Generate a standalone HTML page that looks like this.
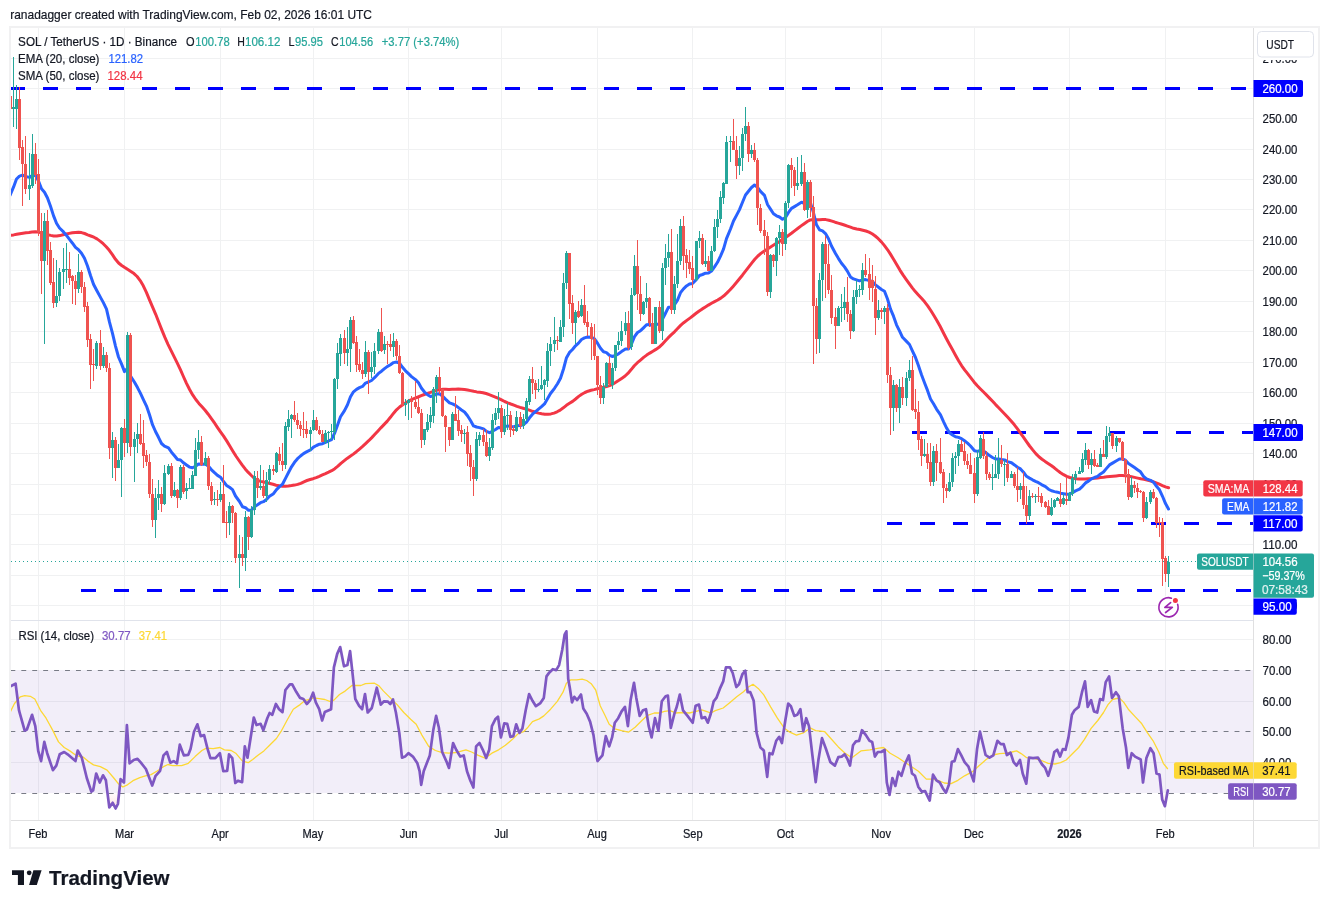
<!DOCTYPE html>
<html><head><meta charset="utf-8"><style>
html,body{margin:0;padding:0;background:#fff;}
body{width:1329px;height:908px;overflow:hidden;position:relative;font-family:"Liberation Sans", sans-serif;}
</style></head><body>
<div style="position:absolute;left:0;top:0;width:1329px;height:908px;will-change:transform"><svg width="1329" height="908" viewBox="0 0 1329 908" style="position:absolute;left:0;top:0;font-family:"Liberation Sans", sans-serif"><text x="10.2" y="19.1" font-size="12.6" fill="#131722" textLength="361.8" lengthAdjust="spacingAndGlyphs" stroke="#131722" stroke-width="0.2">ranadagger created with TradingView.com, Feb 02, 2026 16:01 UTC</text><defs><clipPath id="cm"><rect x="11" y="27" width="1242" height="593"/></clipPath><clipPath id="cr"><rect x="11" y="621" width="1242" height="199"/></clipPath></defs><path d="M38.5,27V620M38.5,621V820M124.5,27V620M124.5,621V820M220.5,27V620M220.5,621V820M313.5,27V620M313.5,621V820M408.5,27V620M408.5,621V820M501.5,27V620M501.5,621V820M597.5,27V620M597.5,621V820M692.5,27V620M692.5,621V820M785.5,27V620M785.5,621V820M881.5,27V620M881.5,621V820M974.5,27V620M974.5,621V820M1069.5,27V620M1069.5,621V820M1165.5,27V620M1165.5,621V820M11,58.5H1253M11,88.5H1253M11,118.5H1253M11,149.5H1253M11,179.5H1253M11,209.5H1253M11,240.5H1253M11,270.5H1253M11,301.5H1253M11,331.5H1253M11,362.5H1253M11,392.5H1253M11,423.5H1253M11,453.5H1253M11,484.5H1253M11,514.5H1253M11,544.5H1253M11,575.5H1253M11,605.5H1253M11,639.5H1253M11,701.5H1253M11,762.5H1253" stroke="#f0f1f2" stroke-width="1" fill="none"/><rect x="11" y="670" width="1242" height="123" fill="#7e57c2" fill-opacity="0.1"/><path d="M10.4,670.5H1253" stroke="#787b86" stroke-width="1" stroke-dasharray="4.9,6.03" fill="none"/><path d="M10.4,731.5H1253" stroke="#787b86" stroke-width="1" stroke-dasharray="4.9,6.03" fill="none"/><path d="M10.4,793.5H1253" stroke="#787b86" stroke-width="1" stroke-dasharray="4.9,6.03" fill="none"/><g clip-path="url(#cm)"><path d="M10,88.5H1253" stroke="#0000ff" stroke-width="3" stroke-dasharray="15,18" fill="none"/><path d="M912,432.5H1253" stroke="#0000ff" stroke-width="3" stroke-dasharray="15,18" fill="none"/><path d="M887,523.5H1253" stroke="#0000ff" stroke-width="3" stroke-dasharray="15,18" fill="none"/><path d="M81,590.5H1253" stroke="#0000ff" stroke-width="3" stroke-dasharray="15,18" fill="none"/><path d="M11,561.5H1253" stroke="#26a69a" stroke-width="1" stroke-dasharray="1,3" fill="none"/><polyline points="10.0,235.4 10.5,235.3 13.6,234.9 16.7,234.3 19.8,233.7 22.9,233.2 25.9,232.8 29.0,232.4 32.1,231.9 35.2,231.7 38.3,232.1 41.4,232.9 44.5,233.8 47.6,234.7 50.7,235.4 53.7,236.0 56.8,236.1 59.9,235.6 63.0,234.8 66.1,234.0 69.2,233.4 72.3,232.8 75.4,232.4 78.4,232.2 81.5,232.6 84.6,233.5 87.7,234.8 90.8,236.0 93.9,237.2 97.0,238.9 100.1,241.1 103.2,243.7 106.2,246.7 109.3,250.3 112.4,254.6 115.5,259.3 118.6,263.0 121.7,265.5 124.8,267.6 127.9,269.6 130.9,271.5 134.0,273.6 137.1,276.5 140.2,280.6 143.3,285.8 146.4,292.4 149.5,299.8 152.6,307.1 155.7,314.3 158.7,322.0 161.8,329.9 164.9,337.4 168.0,344.3 171.1,350.6 174.2,356.8 177.3,363.1 180.4,369.7 183.4,376.5 186.5,383.3 189.6,389.5 192.7,394.9 195.8,399.5 198.9,403.4 202.0,406.8 205.1,410.3 208.2,414.2 211.2,418.3 214.3,422.7 217.4,427.3 220.5,431.8 223.6,436.2 226.7,440.9 229.8,446.0 232.9,451.2 235.9,456.0 239.0,460.5 242.1,464.8 245.2,468.9 248.3,472.4 251.4,475.5 254.5,478.4 257.6,480.4 260.7,481.4 263.7,482.0 266.8,482.7 269.9,483.5 273.0,484.3 276.1,485.2 279.2,485.8 282.3,486.2 285.4,486.2 288.4,486.0 291.5,485.6 294.6,485.1 297.7,484.4 300.8,483.3 303.9,481.8 307.0,480.5 310.1,479.5 313.1,478.7 316.2,477.6 319.3,476.3 322.4,474.9 325.5,473.6 328.6,472.2 331.7,470.7 334.8,468.7 337.9,466.1 340.9,463.3 344.0,460.8 347.1,458.4 350.2,456.3 353.3,454.1 356.4,451.7 359.5,449.1 362.6,446.4 365.6,443.6 368.7,440.7 371.8,437.6 374.9,434.3 378.0,431.0 381.1,427.6 384.2,424.4 387.3,421.1 390.4,417.3 393.4,413.4 396.5,409.8 399.6,407.0 402.7,404.7 405.8,402.7 408.9,400.9 412.0,399.4 415.1,398.2 418.1,397.0 421.2,395.7 424.3,394.5 427.4,393.4 430.5,392.4 433.6,391.3 436.7,390.4 439.8,389.7 442.9,389.3 445.9,389.3 449.0,389.4 452.1,389.3 455.2,389.2 458.3,389.1 461.4,389.2 464.5,389.5 467.6,390.0 470.6,390.6 473.7,391.3 476.8,391.9 479.9,392.3 483.0,392.7 486.1,393.5 489.2,394.6 492.3,395.8 495.4,397.1 498.4,398.4 501.5,399.9 504.6,401.5 507.7,402.8 510.8,404.0 513.9,405.1 517.0,406.3 520.1,407.4 523.1,408.2 526.2,409.1 529.3,410.1 532.4,411.3 535.5,412.3 538.6,413.1 541.7,413.7 544.8,414.2 547.9,414.3 550.9,413.9 554.0,413.1 557.1,411.8 560.2,410.1 563.3,407.8 566.4,405.3 569.5,403.3 572.6,401.4 575.6,399.0 578.7,396.4 581.8,394.2 584.9,392.5 588.0,391.2 591.1,390.3 594.2,389.6 597.3,388.8 600.4,388.0 603.4,387.3 606.5,386.5 609.6,385.6 612.7,384.2 615.8,382.3 618.9,380.3 622.0,378.2 625.1,376.0 628.1,373.2 631.2,369.6 634.3,365.8 637.4,362.7 640.5,360.1 643.6,357.4 646.7,355.1 649.8,353.1 652.9,351.2 655.9,349.4 659.0,347.3 662.1,344.4 665.2,341.0 668.3,337.7 671.4,334.7 674.5,331.8 677.6,328.5 680.6,325.4 683.7,322.7 686.8,320.4 689.9,318.1 693.0,315.7 696.1,313.3 699.2,311.0 702.3,308.9 705.4,307.0 708.4,305.1 711.5,303.3 714.6,301.6 717.7,300.0 720.8,298.1 723.9,295.8 727.0,292.9 730.1,289.8 733.1,286.4 736.2,282.8 739.3,279.0 742.4,275.2 745.5,271.2 748.6,267.1 751.7,263.1 754.8,259.3 757.9,256.0 760.9,253.4 764.0,251.2 767.1,249.2 770.2,247.2 773.3,245.3 776.4,243.4 779.5,241.5 782.6,239.5 785.6,237.4 788.7,235.2 791.8,233.0 794.9,230.6 798.0,228.2 801.1,225.9 804.2,223.7 807.3,221.5 810.4,219.9 813.4,219.5 816.5,219.7 819.6,219.8 822.7,219.6 825.8,219.6 828.9,220.2 832.0,221.1 835.1,222.2 838.1,223.1 841.2,224.0 844.3,225.0 847.4,226.1 850.5,227.2 853.6,228.3 856.7,229.0 859.8,229.5 862.8,230.2 865.9,231.0 869.0,232.1 872.1,233.8 875.2,236.0 878.3,238.7 881.4,241.9 884.5,245.6 887.6,249.8 890.6,254.4 893.7,259.5 896.8,264.8 899.9,270.1 903.0,274.9 906.1,279.3 909.2,283.7 912.3,287.9 915.3,291.6 918.4,295.0 921.5,298.3 924.6,301.8 927.7,305.9 930.8,310.5 933.9,315.5 937.0,320.7 940.1,326.3 943.1,332.2 946.2,338.2 949.3,344.0 952.4,349.6 955.5,355.3 958.6,360.8 961.7,365.8 964.8,370.1 967.8,373.9 970.9,377.9 974.0,381.9 977.1,385.5 980.2,388.7 983.3,391.8 986.4,394.9 989.5,398.1 992.6,401.3 995.6,404.6 998.7,407.8 1001.8,411.0 1004.9,414.2 1008.0,417.6 1011.1,421.0 1014.2,424.6 1017.3,428.7 1020.3,432.9 1023.4,437.2 1026.5,441.7 1029.6,446.0 1032.7,449.9 1035.8,453.6 1038.9,456.8 1042.0,459.2 1045.1,461.4 1048.1,463.4 1051.2,465.5 1054.3,467.8 1057.4,470.4 1060.5,472.8 1063.6,474.7 1066.7,476.3 1069.8,477.5 1072.8,478.3 1075.9,478.7 1079.0,479.0 1082.1,479.1 1085.2,479.0 1088.3,478.7 1091.4,478.5 1094.5,478.2 1097.6,477.9 1100.6,477.5 1103.7,477.2 1106.8,476.8 1109.9,476.5 1113.0,476.2 1116.1,475.9 1119.2,475.6 1122.3,475.6 1125.3,475.7 1128.4,476.1 1131.5,476.7 1134.6,477.4 1137.7,478.1 1140.8,478.8 1143.9,479.4 1147.0,480.0 1150.1,480.8 1153.1,481.7 1156.2,482.8 1159.3,484.2 1162.4,485.6 1165.5,486.9 1168.6,487.8" stroke="#f23645" stroke-width="3" fill="none" stroke-linejoin="round" stroke-linecap="round"/><polyline points="10.0,195.4 13.5,187.2 16.5,179.0 19.5,176.1 22.5,175.1 25.5,176.5 29.5,177.4 32.5,175.3 35.5,175.4 38.5,181.0 41.5,188.8 44.5,192.2 47.5,198.0 50.5,206.3 53.5,215.6 56.5,223.3 59.5,228.0 63.5,231.9 66.5,235.4 69.5,239.4 72.5,243.2 75.5,247.4 78.5,249.7 81.5,253.2 84.5,258.3 87.5,266.0 90.5,275.5 93.5,284.2 96.5,290.0 100.5,297.4 103.5,302.9 106.5,309.1 109.5,322.2 112.5,333.3 115.5,346.1 118.5,357.0 121.5,363.9 124.5,371.6 127.5,368.3 130.5,376.0 134.5,382.3 137.5,387.6 140.5,393.4 143.5,399.8 146.5,406.1 149.5,414.7 152.5,424.7 155.5,431.5 158.5,437.3 161.5,443.5 164.5,446.1 168.5,447.9 171.5,452.2 174.5,455.7 177.5,459.5 180.5,460.0 183.5,462.8 186.5,465.0 189.5,467.1 192.5,467.8 195.5,466.2 198.5,464.0 201.5,464.3 205.5,464.0 208.5,466.3 211.5,469.8 214.5,472.7 217.5,475.4 220.5,477.2 223.5,481.5 226.5,485.4 229.5,487.3 232.5,489.6 235.5,496.0 239.5,501.5 242.5,506.8 245.5,507.7 248.5,510.3 251.5,510.2 254.5,506.8 257.5,504.8 260.5,502.7 263.5,501.7 266.5,499.4 269.5,496.3 273.5,493.7 276.5,489.6 279.5,486.6 282.5,484.2 285.5,478.4 288.5,472.5 291.5,466.8 294.5,462.3 297.5,458.7 300.5,456.0 303.5,453.6 306.5,451.9 310.5,449.9 313.5,447.1 316.5,445.5 319.5,444.2 322.5,443.7 325.5,442.4 328.5,441.0 331.5,439.6 334.5,433.4 337.5,425.3 340.5,416.8 344.5,410.6 347.5,404.8 350.5,396.8 353.5,391.8 356.5,389.4 359.5,387.6 362.5,386.4 365.5,383.1 368.5,382.0 371.5,380.5 374.5,377.7 378.5,373.4 381.5,371.2 384.5,368.6 387.5,366.4 390.5,364.7 393.5,362.6 396.5,362.0 399.5,363.2 402.5,367.3 405.5,370.8 408.5,373.7 411.5,376.6 415.5,379.6 418.5,382.8 421.5,388.2 424.5,392.0 427.5,394.7 430.5,396.5 433.5,395.8 436.5,394.1 439.5,393.8 442.5,396.1 445.5,399.1 449.5,402.9 452.5,403.9 455.5,405.4 458.5,407.6 461.5,410.0 464.5,412.0 467.5,415.8 470.5,420.5 473.5,425.9 476.5,427.0 479.5,427.6 483.5,428.9 486.5,431.4 489.5,432.7 492.5,431.3 495.5,429.5 498.5,427.4 501.5,427.9 504.5,426.9 507.5,425.9 510.5,426.4 513.5,426.8 516.5,425.7 520.5,425.6 523.5,424.6 526.5,422.1 529.5,417.8 532.5,414.2 535.5,411.7 538.5,409.2 541.5,406.7 544.5,403.9 547.5,398.8 550.5,393.5 554.5,388.3 557.5,383.7 560.5,378.2 563.5,369.0 566.5,357.7 569.5,352.4 572.5,349.5 575.5,345.8 578.5,343.1 581.5,339.5 584.5,337.9 587.5,337.0 591.5,337.2 594.5,338.9 597.5,343.2 600.5,348.2 603.5,351.8 606.5,352.6 609.5,355.4 612.5,356.5 615.5,355.3 618.5,353.8 621.5,351.6 625.5,349.0 628.5,349.0 631.5,344.0 634.5,336.6 637.5,332.5 640.5,330.7 643.5,327.8 646.5,324.8 649.5,324.4 652.5,326.0 655.5,324.1 659.5,324.6 662.5,319.1 665.5,313.2 668.5,307.2 671.5,307.2 674.5,304.6 677.5,300.1 680.5,292.7 683.5,288.8 686.5,285.9 689.5,284.0 692.5,283.5 696.5,279.4 699.5,275.5 702.5,274.5 705.5,273.2 708.5,273.0 711.5,271.0 714.5,266.9 717.5,262.3 720.5,256.1 723.5,249.1 726.5,238.6 730.5,229.0 733.5,221.0 736.5,215.4 739.5,209.6 742.5,202.3 745.5,195.0 748.5,191.2 751.5,187.5 754.5,185.0 757.5,187.3 760.5,191.4 764.5,195.4 767.5,204.5 770.5,209.1 773.5,213.8 776.5,215.8 779.5,217.0 782.5,219.3 785.5,217.5 788.5,212.4 791.5,208.4 794.5,206.6 797.5,204.8 801.5,202.2 804.5,203.5 807.5,202.0 810.5,202.9 813.5,212.9 816.5,224.8 819.5,229.8 822.5,230.9 825.5,233.6 828.5,238.7 831.5,246.0 835.5,253.5 838.5,258.6 841.5,263.2 844.5,266.9 847.5,271.4 850.5,277.0 853.5,278.9 856.5,279.9 859.5,280.9 862.5,280.0 865.5,279.6 869.5,280.6 872.5,281.4 875.5,284.9 878.5,287.2 881.5,289.5 884.5,291.2 887.5,299.0 890.5,309.1 893.5,316.2 896.5,324.8 899.5,330.8 902.5,337.3 906.5,341.4 909.5,344.5 912.5,351.1 915.5,357.5 918.5,365.8 921.5,374.8 924.5,382.7 927.5,390.4 930.5,399.0 933.5,403.7 936.5,409.1 940.5,414.9 943.5,421.6 946.5,427.9 949.5,432.8 952.5,435.0 955.5,436.8 958.5,437.4 961.5,438.7 964.5,440.8 967.5,443.1 970.5,446.0 974.5,450.7 977.5,451.4 980.5,450.3 983.5,451.0 986.5,453.3 989.5,455.6 992.5,457.5 995.5,459.0 998.5,459.0 1001.5,459.5 1004.5,459.9 1007.5,461.6 1011.5,462.8 1014.5,464.9 1017.5,467.2 1020.5,468.9 1023.5,472.2 1026.5,476.3 1029.5,478.1 1032.5,479.8 1035.5,481.3 1038.5,482.7 1041.5,484.6 1045.5,486.6 1048.5,489.2 1051.5,490.8 1054.5,491.6 1057.5,492.2 1060.5,493.2 1063.5,493.7 1066.5,494.3 1069.5,494.2 1072.5,492.7 1075.5,490.9 1079.5,489.1 1082.5,486.3 1085.5,482.9 1088.5,481.1 1091.5,478.9 1094.5,477.5 1097.5,476.3 1100.5,473.9 1103.5,472.0 1106.5,468.4 1109.5,464.9 1112.5,463.1 1116.5,460.8 1119.5,459.0 1122.5,459.0 1125.5,460.2 1128.5,463.5 1131.5,465.4 1134.5,467.5 1137.5,469.7 1140.5,471.8 1143.5,476.3 1146.5,478.9 1150.5,480.3 1153.5,482.2 1156.5,486.3 1159.5,489.8 1162.5,496.3 1165.5,503.6 1168.5,509.0" stroke="#2962ff" stroke-width="3" fill="none" stroke-linejoin="round" stroke-linecap="round"/><path d="M13.5,57V127M16.5,85V129M29.5,153V200M32.5,134V188M44.5,213V344M56.5,260V307M59.5,268V301M63.5,248V289M66.5,243V283M78.5,254V293M96.5,341V369M103.5,347V368M112.5,432V478M118.5,444V468M121.5,427V497M127.5,332V453M134.5,432V482M137.5,423V453M155.5,488V538M158.5,480V510M164.5,465V505M168.5,464V475M174.5,482V497M180.5,465V500M186.5,483V499M189.5,478V489M192.5,471V489M195.5,438V476M198.5,430V459M205.5,452V466M214.5,492V505M220.5,482V502M229.5,502V535M239.5,535V588M245.5,511V571M251.5,506V538M254.5,471V515M260.5,465V490M266.5,472V502M269.5,465V484M276.5,452V473M285.5,422V469M288.5,410V431M291.5,414V438M310.5,427V451M313.5,410V431M325.5,430V444M328.5,431V448M331.5,424V440M334.5,378V440M337.5,343V389M340.5,334V366M347.5,327V366M350.5,317V372M365.5,341V377M371.5,352V378M374.5,343V374M378.5,329V354M384.5,336V354M393.5,333V357M405.5,399V416M408.5,399V420M424.5,429V445M427.5,414V432M430.5,407V428M433.5,387V423M436.5,375V403M452.5,412V440M464.5,429V444M476.5,432V481M479.5,432V446M489.5,438V461M492.5,414V450M495.5,408V425M498.5,392V419M504.5,409V435M507.5,403V430M516.5,411V432M523.5,414V429M526.5,398V421M529.5,376V405M538.5,379V392M541.5,366V390M544.5,379V400M547.5,343V387M550.5,337V366M554.5,317V352M560.5,320V342M563.5,273V337M566.5,251V289M575.5,310V344M581.5,299V317M603.5,383V404M606.5,362V387M612.5,363V389M615.5,345V371M618.5,332V350M621.5,321V346M625.5,312V335M631.5,288V350M634.5,255V296M643.5,301V315M646.5,283V308M655.5,307V344M662.5,263V340M665.5,244V285M668.5,234V267M674.5,276V314M677.5,234V288M680.5,219V265M696.5,241V281M699.5,231V248M705.5,240V267M711.5,246V271M714.5,219V252M717.5,210V238M720.5,191V223M723.5,182V204M726.5,136V184M730.5,136V162M739.5,146V175M742.5,128V171M745.5,107V141M751.5,145V158M770.5,254V298M776.5,237V276M779.5,225V255M785.5,201V250M788.5,164V208M797.5,157V190M801.5,155V186M807.5,180V218M819.5,273V353M822.5,242V301M838.5,306V326M841.5,294V322M844.5,287V320M853.5,290V332M856.5,280V304M859.5,285V297M862.5,263V295M878.5,300V320M884.5,306V324M893.5,380V431M899.5,379V423M906.5,372V406M909.5,360V381M924.5,439V457M933.5,446V486M949.5,473V492M952.5,453V487M955.5,452V474M958.5,440V466M977.5,450V496M980.5,435V459M992.5,464V490M995.5,455V478M998.5,438V479M1004.5,460V486M1011.5,471V478M1020.5,483V499M1029.5,490V520M1035.5,494V503M1051.5,498V516M1054.5,499V508M1057.5,497V501M1063.5,494V505M1069.5,492V501M1072.5,474V496M1075.5,471V484M1079.5,467V474M1082.5,453V473M1085.5,443V465M1091.5,453V474M1100.5,448V467M1106.5,426V459M1109.5,427V442M1116.5,436V452M1131.5,477V498M1146.5,497V519M1150.5,490V504M1168.5,556V587" stroke="#26a69a" stroke-width="1" fill="none"/><path d="M10.5,92V142M19.5,87V160M22.5,140V206M25.5,136V194M35.5,143V184M38.5,159V236M41.5,213V294M47.5,210V265M50.5,242V285M53.5,258V308M69.5,252V285M72.5,275V304M75.5,275V305M81.5,270V293M84.5,282V312M87.5,302V347M90.5,334V389M93.5,349V381M100.5,330V370M106.5,352V372M109.5,363V459M115.5,437V481M124.5,419V457M130.5,333V456M140.5,414V445M143.5,420V468M146.5,450V466M149.5,454V498M152.5,479V527M161.5,487V512M171.5,463V498M177.5,489V508M183.5,465V494M201.5,436V466M208.5,456V490M211.5,482V505M217.5,490V506M223.5,465V523M226.5,511V538M232.5,505V523M235.5,512V563M242.5,537V566M248.5,516V550M257.5,471V498M263.5,470V498M273.5,465V475M279.5,447V465M282.5,443V471M294.5,401V422M297.5,413V429M300.5,421V436M303.5,412V438M306.5,421V438M316.5,417V431M319.5,426V435M322.5,430V442M344.5,330V364M353.5,316V344M356.5,336V372M359.5,349V372M362.5,362V379M368.5,350V394M381.5,308V352M387.5,341V364M390.5,334V351M396.5,339V360M399.5,345V374M402.5,372V406M411.5,396V418M415.5,381V409M418.5,398V414M421.5,409V448M439.5,367V394M442.5,389V417M445.5,415V452M449.5,427V446M455.5,396V421M458.5,410V436M461.5,425V442M467.5,426V466M470.5,445V481M473.5,460V496M483.5,429V446M486.5,430V457M501.5,405V438M510.5,411V437M513.5,426V435M520.5,412V429M532.5,367V394M535.5,380V399M557.5,336V350M569.5,253V319M572.5,295V334M578.5,301V318M584.5,285V325M587.5,311V336M591.5,323V360M594.5,324V360M597.5,356V395M600.5,376V404M609.5,356V386M628.5,311V350M637.5,240V310M640.5,276V321M649.5,297V327M652.5,313V344M659.5,301V333M671.5,229V314M683.5,216V270M686.5,249V278M689.5,250V274M692.5,256V288M702.5,234V265M708.5,256V271M733.5,119V150M736.5,136V179M748.5,122V162M754.5,143V162M757.5,158V225M760.5,204V233M764.5,220V255M767.5,232V296M773.5,254V267M782.5,229V256M791.5,158V188M794.5,167V196M804.5,163V211M810.5,180V217M813.5,196V364M816.5,298V354M825.5,236V298M828.5,244V294M831.5,275V324M835.5,308V349M847.5,277V322M850.5,310V339M865.5,254V277M869.5,258V300M872.5,265V302M875.5,276V335M881.5,308V319M887.5,304V383M890.5,367V435M896.5,384V412M902.5,377V405M912.5,356V411M915.5,389V419M918.5,401V450M921.5,436V466M927.5,443V469M930.5,443V486M936.5,444V481M940.5,438V474M943.5,469V503M946.5,484V498M961.5,440V452M964.5,442V465M967.5,454V469M970.5,453V474M974.5,458V503M983.5,432V459M986.5,451V480M989.5,472V480M1001.5,445V467M1007.5,453V482M1014.5,472V488M1017.5,467V502M1023.5,472V509M1026.5,486V524M1032.5,493V498M1038.5,487V502M1041.5,493V507M1045.5,501V508M1048.5,500V515M1060.5,483V507M1066.5,478V505M1088.5,449V469M1094.5,450V467M1097.5,463V467M1103.5,440V457M1112.5,433V449M1119.5,438V443M1122.5,441V461M1125.5,459V483M1128.5,469V500M1134.5,481V493M1137.5,483V498M1140.5,490V493M1143.5,491V522M1153.5,489V499M1156.5,497V528M1159.5,517V537M1162.5,518V586M1165.5,556V582" stroke="#ef5350" stroke-width="1" fill="none"/><path d="M12,107h3v2h-3zM15,99h3v10h-3zM28,185h3v4h-3zM31,154h3v32h-3zM43,221h3v40h-3zM55,296h3v7h-3zM58,272h3v24h-3zM62,269h3v3h-3zM65,269h3v1h-3zM77,272h3v17h-3zM95,343h3v23h-3zM102,355h3v11h-3zM111,440h3v8h-3zM117,460h3v8h-3zM120,428h3v32h-3zM126,335h3v108h-3zM133,439h3v8h-3zM136,434h3v5h-3zM154,498h3v22h-3zM157,494h3v4h-3zM163,473h3v31h-3zM167,466h3v8h-3zM173,490h3v6h-3zM179,467h3v31h-3zM185,488h3v3h-3zM188,488h3v1h-3zM191,475h3v14h-3zM194,450h3v26h-3zM197,442h3v8h-3zM204,458h3v7h-3zM213,499h3v1h-3zM219,494h3v6h-3zM228,506h3v17h-3zM238,554h3v4h-3zM244,517h3v41h-3zM250,510h3v27h-3zM253,476h3v34h-3zM259,486h3v2h-3zM265,480h3v16h-3zM268,469h3v11h-3zM275,453h3v19h-3zM284,426h3v39h-3zM287,419h3v8h-3zM290,415h3v4h-3zM309,430h3v4h-3zM312,420h3v10h-3zM324,433h3v9h-3zM327,432h3v1h-3zM330,431h3v1h-3zM333,379h3v53h-3zM336,353h3v26h-3zM339,338h3v16h-3zM346,349h3v4h-3zM349,320h3v29h-3zM364,352h3v22h-3zM370,367h3v5h-3zM373,351h3v16h-3zM377,332h3v19h-3zM383,344h3v6h-3zM392,341h3v6h-3zM404,403h3v2h-3zM407,400h3v3h-3zM423,429h3v11h-3zM426,422h3v8h-3zM429,415h3v7h-3zM432,389h3v27h-3zM435,377h3v12h-3zM451,414h3v26h-3zM463,433h3v1h-3zM475,439h3v40h-3zM478,435h3v5h-3zM488,447h3v9h-3zM491,420h3v28h-3zM494,413h3v7h-3zM497,408h3v5h-3zM503,416h3v16h-3zM506,415h3v1h-3zM515,417h3v14h-3zM522,419h3v7h-3zM525,401h3v18h-3zM528,379h3v23h-3zM537,389h3v1h-3zM540,385h3v4h-3zM543,380h3v5h-3zM546,351h3v30h-3zM549,344h3v7h-3zM553,340h3v4h-3zM559,327h3v15h-3zM562,283h3v44h-3zM565,253h3v30h-3zM574,312h3v11h-3zM580,305h3v11h-3zM602,387h3v11h-3zM605,363h3v24h-3zM611,368h3v17h-3zM614,345h3v23h-3zM617,341h3v4h-3zM620,331h3v10h-3zM624,323h3v8h-3zM630,295h3v52h-3zM633,266h3v29h-3zM642,302h3v12h-3zM645,298h3v4h-3zM654,307h3v37h-3zM661,268h3v63h-3zM664,258h3v10h-3zM667,252h3v6h-3zM673,284h3v26h-3zM676,261h3v23h-3zM679,226h3v35h-3zM695,241h3v39h-3zM698,238h3v3h-3zM704,261h3v3h-3zM710,251h3v20h-3zM713,227h3v24h-3zM716,219h3v8h-3zM719,197h3v22h-3zM722,183h3v15h-3zM725,142h3v42h-3zM729,141h3v1h-3zM738,158h3v8h-3zM741,134h3v24h-3zM744,126h3v8h-3zM750,150h3v4h-3zM769,255h3v37h-3zM775,238h3v23h-3zM778,232h3v6h-3zM784,203h3v41h-3zM787,165h3v38h-3zM796,183h3v3h-3zM800,172h3v12h-3zM806,182h3v28h-3zM818,280h3v59h-3zM821,244h3v36h-3zM837,308h3v18h-3zM840,307h3v1h-3zM843,302h3v6h-3zM852,297h3v34h-3zM855,290h3v7h-3zM858,289h3v1h-3zM861,270h3v20h-3zM877,310h3v8h-3zM883,308h3v4h-3zM892,385h3v23h-3zM898,387h3v21h-3zM905,378h3v20h-3zM908,370h3v8h-3zM923,454h3v2h-3zM932,451h3v31h-3zM948,482h3v9h-3zM951,458h3v24h-3zM954,456h3v2h-3zM957,444h3v12h-3zM976,457h3v37h-3zM979,438h3v20h-3zM991,477h3v1h-3zM994,474h3v4h-3zM997,460h3v14h-3zM1003,464h3v1h-3zM1010,474h3v4h-3zM1019,486h3v4h-3zM1028,496h3v20h-3zM1034,496h3v1h-3zM1050,507h3v8h-3zM1053,500h3v7h-3zM1056,498h3v3h-3zM1062,498h3v6h-3zM1068,493h3v8h-3zM1071,478h3v16h-3zM1074,474h3v4h-3zM1078,471h3v3h-3zM1081,459h3v13h-3zM1084,450h3v10h-3zM1090,459h3v6h-3zM1099,454h3v13h-3zM1105,436h3v21h-3zM1108,433h3v3h-3zM1115,438h3v8h-3zM1130,485h3v12h-3zM1145,502h3v16h-3zM1149,492h3v10h-3zM1167,562h3v12h-3z" fill="#26a69a"/><path d="M9,96h3v13h-3zM18,99h3v49h-3zM21,147h3v17h-3zM24,164h3v25h-3zM34,154h3v21h-3zM37,174h3v58h-3zM40,231h3v30h-3zM46,221h3v30h-3zM49,250h3v33h-3zM52,282h3v21h-3zM68,269h3v9h-3zM71,276h3v5h-3zM74,281h3v8h-3zM80,272h3v15h-3zM83,287h3v20h-3zM86,306h3v34h-3zM89,339h3v26h-3zM92,364h3v1h-3zM99,343h3v23h-3zM105,355h3v13h-3zM108,368h3v80h-3zM114,440h3v28h-3zM123,428h3v15h-3zM129,335h3v112h-3zM139,434h3v10h-3zM142,443h3v13h-3zM145,455h3v7h-3zM148,462h3v32h-3zM151,494h3v26h-3zM160,494h3v10h-3zM170,466h3v30h-3zM176,490h3v8h-3zM182,467h3v25h-3zM200,442h3v23h-3zM207,458h3v28h-3zM210,486h3v15h-3zM216,499h3v1h-3zM222,494h3v29h-3zM225,522h3v1h-3zM231,506h3v7h-3zM234,513h3v45h-3zM241,554h3v4h-3zM247,517h3v20h-3zM256,478h3v10h-3zM262,486h3v10h-3zM272,469h3v2h-3zM278,454h3v7h-3zM281,461h3v4h-3zM293,415h3v5h-3zM296,420h3v5h-3zM299,425h3v4h-3zM302,429h3v1h-3zM305,429h3v5h-3zM315,420h3v10h-3zM318,430h3v4h-3zM321,434h3v8h-3zM343,338h3v15h-3zM352,320h3v23h-3zM355,342h3v23h-3zM358,364h3v6h-3zM361,370h3v4h-3zM367,352h3v20h-3zM380,332h3v19h-3zM386,344h3v1h-3zM389,344h3v3h-3zM395,341h3v15h-3zM398,356h3v17h-3zM401,373h3v32h-3zM410,400h3v2h-3zM414,402h3v5h-3zM417,407h3v6h-3zM420,413h3v27h-3zM438,377h3v12h-3zM441,389h3v27h-3zM444,416h3v11h-3zM448,427h3v13h-3zM454,414h3v7h-3zM457,420h3v11h-3zM460,430h3v4h-3zM466,432h3v22h-3zM469,453h3v14h-3zM472,467h3v12h-3zM482,435h3v7h-3zM485,442h3v14h-3zM500,408h3v24h-3zM509,415h3v15h-3zM512,429h3v2h-3zM519,417h3v9h-3zM531,379h3v4h-3zM534,383h3v7h-3zM556,340h3v1h-3zM568,253h3v51h-3zM571,303h3v20h-3zM577,311h3v6h-3zM583,305h3v18h-3zM586,322h3v5h-3zM590,327h3v12h-3zM593,339h3v17h-3zM596,356h3v29h-3zM599,385h3v13h-3zM608,363h3v21h-3zM627,323h3v25h-3zM636,266h3v28h-3zM639,294h3v20h-3zM648,298h3v25h-3zM651,323h3v21h-3zM658,307h3v24h-3zM670,252h3v58h-3zM682,226h3v30h-3zM685,255h3v8h-3zM688,262h3v7h-3zM691,268h3v12h-3zM701,238h3v26h-3zM707,261h3v10h-3zM732,141h3v9h-3zM735,150h3v16h-3zM747,126h3v28h-3zM753,150h3v10h-3zM756,160h3v48h-3zM759,208h3v23h-3zM763,230h3v6h-3zM766,236h3v56h-3zM772,255h3v6h-3zM781,232h3v12h-3zM790,165h3v5h-3zM793,170h3v16h-3zM803,172h3v38h-3zM809,182h3v26h-3zM812,207h3v99h-3zM815,306h3v33h-3zM824,244h3v20h-3zM827,264h3v26h-3zM830,290h3v28h-3zM834,317h3v9h-3zM846,302h3v12h-3zM849,314h3v17h-3zM864,270h3v5h-3zM868,274h3v14h-3zM871,280h3v8h-3zM874,289h3v29h-3zM880,310h3v2h-3zM886,308h3v67h-3zM889,375h3v33h-3zM895,385h3v23h-3zM901,387h3v11h-3zM911,370h3v40h-3zM914,409h3v3h-3zM917,412h3v28h-3zM920,439h3v17h-3zM926,454h3v9h-3zM929,462h3v20h-3zM935,451h3v12h-3zM939,462h3v11h-3zM942,472h3v16h-3zM945,488h3v3h-3zM960,444h3v8h-3zM963,451h3v10h-3zM966,461h3v4h-3zM969,465h3v9h-3zM973,473h3v21h-3zM982,439h3v17h-3zM985,456h3v18h-3zM988,474h3v4h-3zM1000,460h3v4h-3zM1006,464h3v14h-3zM1013,474h3v12h-3zM1016,486h3v4h-3zM1022,486h3v19h-3zM1025,505h3v11h-3zM1031,496h3v1h-3zM1037,496h3v1h-3zM1040,496h3v7h-3zM1044,502h3v5h-3zM1047,506h3v9h-3zM1059,499h3v5h-3zM1065,499h3v2h-3zM1087,450h3v15h-3zM1093,459h3v7h-3zM1096,465h3v2h-3zM1102,454h3v3h-3zM1111,433h3v13h-3zM1118,438h3v4h-3zM1121,442h3v18h-3zM1124,460h3v14h-3zM1127,474h3v23h-3zM1133,485h3v3h-3zM1136,488h3v4h-3zM1139,491h3v1h-3zM1142,492h3v26h-3zM1152,492h3v6h-3zM1155,498h3v25h-3zM1158,522h3v1h-3zM1161,522h3v37h-3zM1164,558h3v16h-3z" fill="#ef5350"/></g><g clip-path="url(#cr)"><clipPath id="cob"><rect x="11" y="621" width="1242" height="49.30"/></clipPath><clipPath id="cos"><rect x="11" y="793.30" width="1242" height="26.70"/></clipPath><linearGradient id="gob" x1="0" y1="621" x2="0" y2="670.30" gradientUnits="userSpaceOnUse"><stop offset="0" stop-color="#4caf50" stop-opacity="0.25"/><stop offset="1" stop-color="#4caf50" stop-opacity="0.02"/></linearGradient><linearGradient id="gos" x1="0" y1="793.30" x2="0" y2="820" gradientUnits="userSpaceOnUse"><stop offset="0" stop-color="#f23645" stop-opacity="0.02"/><stop offset="1" stop-color="#f23645" stop-opacity="0.25"/></linearGradient><polygon points="10.0,686.6 15.6,683.7 19.0,710.3 24.7,730.6 26.9,729.5 32.1,714.8 35.3,726.1 38.2,750.9 41.1,761.1 44.3,741.9 47.2,753.2 52.9,770.1 56.3,765.6 59.7,754.3 64.2,752.0 67.6,754.3 75.5,761.1 77.7,750.5 81.8,757.7 86.8,778.0 91.3,791.6 93.1,790.4 96.2,773.5 99.8,782.5 103.0,775.3 105.9,780.3 109.3,807.4 112.7,802.8 115.6,808.5 117.9,804.0 120.6,779.1 124.0,782.5 126.9,725.0 129.6,763.3 133.7,760.0 137.5,758.8 140.9,762.7 145.9,769.0 152.2,785.5 155.6,775.8 160.1,770.8 163.5,755.4 166.9,752.0 170.3,762.7 173.7,761.1 177.0,763.3 179.8,744.6 183.8,755.4 188.3,754.8 190.6,748.7 194.0,731.7 197.4,724.3 200.7,736.2 204.1,735.1 207.5,748.7 210.4,758.1 215.4,758.1 219.9,753.2 223.3,771.2 227.2,770.8 229.0,754.3 232.3,758.1 235.3,783.0 238.0,780.7 242.1,782.1 244.8,746.4 247.5,757.7 253.8,717.5 256.5,725.0 260.6,723.8 263.3,730.2 267.3,718.2 269.6,713.0 272.3,714.8 275.9,704.0 279.1,709.2 282.5,712.1 285.4,690.0 289.9,684.3 292.2,684.3 296.2,691.8 300.1,697.9 303.4,699.0 306.8,704.0 310.2,700.1 313.1,692.7 315.8,702.4 319.2,709.2 322.1,720.5 324.8,712.1 331.1,709.2 333.9,667.4 337.2,653.9 340.2,647.1 344.0,666.3 347.4,665.1 350.1,651.1 353.1,678.7 355.3,699.0 359.1,705.8 362.1,709.2 365.0,694.0 367.7,712.5 371.8,708.0 376.8,687.7 380.8,704.6 384.0,701.3 388.0,701.7 390.3,704.0 393.0,699.5 395.9,712.5 399.3,732.9 402.0,757.7 405.0,756.6 408.4,753.2 412.9,756.6 417.4,763.3 419.6,771.2 421.2,784.8 423.7,771.2 429.8,755.4 433.2,730.6 436.1,715.9 438.8,727.2 442.2,752.0 446.3,761.1 449.0,767.9 453.1,743.0 456.2,749.8 460.3,756.6 463.7,755.4 467.0,771.2 470.4,780.7 473.4,787.5 476.1,746.4 479.5,743.0 482.8,749.8 486.2,758.1 489.2,749.8 491.9,726.1 495.3,719.3 498.0,716.6 500.9,737.4 504.3,723.4 507.2,723.8 510.4,736.9 513.3,736.2 516.2,724.3 519.4,732.9 522.4,728.4 525.7,710.3 529.1,694.0 532.5,700.8 535.9,706.2 540.4,703.1 543.8,697.9 546.5,676.4 549.4,672.4 552.8,669.2 556.2,670.1 559.1,665.1 562.3,649.4 564.6,634.7 566.4,631.3 568.2,678.7 569.8,687.7 572.0,702.4 574.3,696.8 577.2,700.1 581.0,694.5 583.3,708.5 586.7,713.7 590.1,721.6 593.5,735.1 595.7,750.9 597.5,761.1 602.4,755.4 605.8,736.2 609.2,746.4 612.1,737.4 614.8,722.7 618.2,718.2 621.6,711.4 625.0,706.9 627.9,726.1 630.6,700.1 634.0,682.8 636.3,697.9 639.7,715.9 643.0,710.3 646.0,709.2 648.7,726.1 651.6,737.4 655.0,718.2 658.4,730.6 661.8,701.3 665.6,696.3 667.9,695.6 670.8,727.9 674.6,713.0 676.9,706.2 679.8,694.5 683.0,710.3 687.5,715.9 692.7,722.7 695.6,705.8 699.0,704.6 701.7,718.2 705.1,717.1 707.8,722.7 710.8,713.7 713.7,701.3 716.4,697.9 719.8,688.9 723.2,681.4 725.9,667.4 730.0,667.4 732.7,673.0 736.3,687.0 739.0,684.3 742.4,674.2 745.3,670.8 747.6,692.2 750.3,692.2 753.7,700.8 756.6,732.9 760.4,747.5 763.8,750.5 767.2,776.9 769.5,753.2 772.4,754.3 776.2,740.8 779.2,736.9 781.9,743.0 785.3,720.5 788.2,703.5 790.9,706.2 794.3,715.9 797.2,714.8 800.4,709.2 803.3,731.1 806.2,718.2 809.0,726.1 812.4,755.4 815.7,782.1 818.4,760.0 822.0,738.1 825.9,748.7 830.4,762.2 834.9,765.6 838.3,757.2 841.7,756.6 844.6,754.3 847.3,758.8 850.0,765.6 853.0,745.3 855.9,741.4 859.1,740.8 862.0,730.2 865.9,735.1 869.5,740.8 872.2,741.9 874.9,756.6 877.8,752.0 881.2,752.0 884.6,749.8 886.8,782.5 889.5,794.9 892.4,778.0 895.4,785.9 898.5,771.7 901.4,775.8 904.8,764.5 908.9,755.4 912.0,773.5 915.0,775.8 918.4,787.0 921.8,791.6 925.1,791.1 929.7,800.6 933.0,774.6 936.4,780.3 939.8,782.5 942.8,788.2 945.9,792.7 948.9,784.8 951.8,761.8 954.5,761.1 957.9,749.1 961.3,755.4 964.6,762.2 968.5,766.7 973.7,781.4 977.1,748.7 980.0,731.7 982.7,743.0 985.6,755.0 989.5,757.7 993.3,755.4 997.4,740.8 1000.8,744.1 1003.7,744.1 1006.9,755.0 1010.5,752.7 1013.6,762.2 1016.6,765.6 1020.0,760.0 1022.7,773.5 1026.3,783.7 1029.0,757.7 1033.0,758.1 1038.0,757.7 1042.1,764.5 1045.2,767.9 1048.2,775.8 1051.1,766.7 1054.3,752.0 1057.2,749.8 1060.1,756.6 1062.8,749.1 1065.5,749.8 1068.5,737.4 1071.9,714.8 1074.6,710.3 1078.7,706.9 1082.0,692.2 1085.0,681.4 1087.7,706.9 1091.1,700.1 1094.0,711.4 1097.2,712.5 1100.1,699.0 1103.0,700.1 1105.7,682.1 1109.1,676.4 1112.0,697.9 1115.9,692.2 1118.8,696.3 1122.7,728.4 1126.0,747.5 1128.3,767.9 1131.7,753.2 1135.1,756.6 1140.7,759.5 1143.0,782.5 1146.4,758.1 1150.4,748.2 1153.6,753.2 1156.5,773.5 1159.5,774.6 1162.2,799.5 1164.9,806.2 1167.8,790.4 1167.8,670.3 10.0,670.3" fill="url(#gob)" clip-path="url(#cob)"/><polygon points="10.0,686.6 15.6,683.7 19.0,710.3 24.7,730.6 26.9,729.5 32.1,714.8 35.3,726.1 38.2,750.9 41.1,761.1 44.3,741.9 47.2,753.2 52.9,770.1 56.3,765.6 59.7,754.3 64.2,752.0 67.6,754.3 75.5,761.1 77.7,750.5 81.8,757.7 86.8,778.0 91.3,791.6 93.1,790.4 96.2,773.5 99.8,782.5 103.0,775.3 105.9,780.3 109.3,807.4 112.7,802.8 115.6,808.5 117.9,804.0 120.6,779.1 124.0,782.5 126.9,725.0 129.6,763.3 133.7,760.0 137.5,758.8 140.9,762.7 145.9,769.0 152.2,785.5 155.6,775.8 160.1,770.8 163.5,755.4 166.9,752.0 170.3,762.7 173.7,761.1 177.0,763.3 179.8,744.6 183.8,755.4 188.3,754.8 190.6,748.7 194.0,731.7 197.4,724.3 200.7,736.2 204.1,735.1 207.5,748.7 210.4,758.1 215.4,758.1 219.9,753.2 223.3,771.2 227.2,770.8 229.0,754.3 232.3,758.1 235.3,783.0 238.0,780.7 242.1,782.1 244.8,746.4 247.5,757.7 253.8,717.5 256.5,725.0 260.6,723.8 263.3,730.2 267.3,718.2 269.6,713.0 272.3,714.8 275.9,704.0 279.1,709.2 282.5,712.1 285.4,690.0 289.9,684.3 292.2,684.3 296.2,691.8 300.1,697.9 303.4,699.0 306.8,704.0 310.2,700.1 313.1,692.7 315.8,702.4 319.2,709.2 322.1,720.5 324.8,712.1 331.1,709.2 333.9,667.4 337.2,653.9 340.2,647.1 344.0,666.3 347.4,665.1 350.1,651.1 353.1,678.7 355.3,699.0 359.1,705.8 362.1,709.2 365.0,694.0 367.7,712.5 371.8,708.0 376.8,687.7 380.8,704.6 384.0,701.3 388.0,701.7 390.3,704.0 393.0,699.5 395.9,712.5 399.3,732.9 402.0,757.7 405.0,756.6 408.4,753.2 412.9,756.6 417.4,763.3 419.6,771.2 421.2,784.8 423.7,771.2 429.8,755.4 433.2,730.6 436.1,715.9 438.8,727.2 442.2,752.0 446.3,761.1 449.0,767.9 453.1,743.0 456.2,749.8 460.3,756.6 463.7,755.4 467.0,771.2 470.4,780.7 473.4,787.5 476.1,746.4 479.5,743.0 482.8,749.8 486.2,758.1 489.2,749.8 491.9,726.1 495.3,719.3 498.0,716.6 500.9,737.4 504.3,723.4 507.2,723.8 510.4,736.9 513.3,736.2 516.2,724.3 519.4,732.9 522.4,728.4 525.7,710.3 529.1,694.0 532.5,700.8 535.9,706.2 540.4,703.1 543.8,697.9 546.5,676.4 549.4,672.4 552.8,669.2 556.2,670.1 559.1,665.1 562.3,649.4 564.6,634.7 566.4,631.3 568.2,678.7 569.8,687.7 572.0,702.4 574.3,696.8 577.2,700.1 581.0,694.5 583.3,708.5 586.7,713.7 590.1,721.6 593.5,735.1 595.7,750.9 597.5,761.1 602.4,755.4 605.8,736.2 609.2,746.4 612.1,737.4 614.8,722.7 618.2,718.2 621.6,711.4 625.0,706.9 627.9,726.1 630.6,700.1 634.0,682.8 636.3,697.9 639.7,715.9 643.0,710.3 646.0,709.2 648.7,726.1 651.6,737.4 655.0,718.2 658.4,730.6 661.8,701.3 665.6,696.3 667.9,695.6 670.8,727.9 674.6,713.0 676.9,706.2 679.8,694.5 683.0,710.3 687.5,715.9 692.7,722.7 695.6,705.8 699.0,704.6 701.7,718.2 705.1,717.1 707.8,722.7 710.8,713.7 713.7,701.3 716.4,697.9 719.8,688.9 723.2,681.4 725.9,667.4 730.0,667.4 732.7,673.0 736.3,687.0 739.0,684.3 742.4,674.2 745.3,670.8 747.6,692.2 750.3,692.2 753.7,700.8 756.6,732.9 760.4,747.5 763.8,750.5 767.2,776.9 769.5,753.2 772.4,754.3 776.2,740.8 779.2,736.9 781.9,743.0 785.3,720.5 788.2,703.5 790.9,706.2 794.3,715.9 797.2,714.8 800.4,709.2 803.3,731.1 806.2,718.2 809.0,726.1 812.4,755.4 815.7,782.1 818.4,760.0 822.0,738.1 825.9,748.7 830.4,762.2 834.9,765.6 838.3,757.2 841.7,756.6 844.6,754.3 847.3,758.8 850.0,765.6 853.0,745.3 855.9,741.4 859.1,740.8 862.0,730.2 865.9,735.1 869.5,740.8 872.2,741.9 874.9,756.6 877.8,752.0 881.2,752.0 884.6,749.8 886.8,782.5 889.5,794.9 892.4,778.0 895.4,785.9 898.5,771.7 901.4,775.8 904.8,764.5 908.9,755.4 912.0,773.5 915.0,775.8 918.4,787.0 921.8,791.6 925.1,791.1 929.7,800.6 933.0,774.6 936.4,780.3 939.8,782.5 942.8,788.2 945.9,792.7 948.9,784.8 951.8,761.8 954.5,761.1 957.9,749.1 961.3,755.4 964.6,762.2 968.5,766.7 973.7,781.4 977.1,748.7 980.0,731.7 982.7,743.0 985.6,755.0 989.5,757.7 993.3,755.4 997.4,740.8 1000.8,744.1 1003.7,744.1 1006.9,755.0 1010.5,752.7 1013.6,762.2 1016.6,765.6 1020.0,760.0 1022.7,773.5 1026.3,783.7 1029.0,757.7 1033.0,758.1 1038.0,757.7 1042.1,764.5 1045.2,767.9 1048.2,775.8 1051.1,766.7 1054.3,752.0 1057.2,749.8 1060.1,756.6 1062.8,749.1 1065.5,749.8 1068.5,737.4 1071.9,714.8 1074.6,710.3 1078.7,706.9 1082.0,692.2 1085.0,681.4 1087.7,706.9 1091.1,700.1 1094.0,711.4 1097.2,712.5 1100.1,699.0 1103.0,700.1 1105.7,682.1 1109.1,676.4 1112.0,697.9 1115.9,692.2 1118.8,696.3 1122.7,728.4 1126.0,747.5 1128.3,767.9 1131.7,753.2 1135.1,756.6 1140.7,759.5 1143.0,782.5 1146.4,758.1 1150.4,748.2 1153.6,753.2 1156.5,773.5 1159.5,774.6 1162.2,799.5 1164.9,806.2 1167.8,790.4 1167.8,793.3 10.0,793.3" fill="url(#gos)" clip-path="url(#cos)"/><polyline points="10.0,712.5 14.5,703.5 20.2,696.8 24.7,695.6 30.3,696.3 34.8,699.0 40.5,710.3 46.1,718.2 52.9,730.6 58.5,741.9 64.2,747.5 69.8,750.9 75.5,755.0 80.0,756.6 83.4,757.2 87.9,761.1 93.5,764.9 100.3,766.7 107.1,770.1 113.8,778.0 118.3,783.7 122.9,787.0 127.4,784.8 133.0,780.7 139.8,777.6 145.4,775.8 151.1,774.6 156.7,771.2 163.5,766.7 168.0,764.5 172.5,765.6 181.6,765.6 188.3,763.3 195.1,756.6 201.9,750.5 206.4,748.2 213.2,748.7 219.9,747.5 224.4,749.8 231.2,750.5 235.7,753.2 242.5,761.1 248.2,762.7 252.7,759.5 258.3,755.0 263.9,750.9 269.6,745.3 276.4,738.5 280.9,731.7 287.6,719.3 293.3,709.2 300.1,704.6 305.7,700.1 306.8,700.1 313.5,697.9 319.2,698.6 324.8,699.5 330.5,701.7 333.9,700.1 339.5,694.5 345.1,691.1 351.9,685.5 360.9,685.5 365.5,683.7 374.5,683.2 379.0,685.9 383.5,691.1 390.3,697.9 397.1,704.6 403.8,712.5 410.6,719.3 416.2,724.3 421.9,735.1 428.7,746.4 435.4,750.5 442.2,752.7 449.0,753.2 455.8,752.5 460.3,751.4 465.9,749.8 471.6,752.0 478.3,755.4 485.1,758.1 491.9,753.2 498.6,749.8 505.4,745.3 512.2,739.6 517.8,734.0 523.5,731.7 528.0,727.2 532.5,721.6 539.3,718.9 543.8,715.9 550.6,709.2 557.3,701.3 563.0,692.2 566.4,683.2 570.9,679.8 576.5,679.8 582.2,679.1 586.7,680.5 591.2,683.7 595.7,690.0 600.2,705.8 604.7,714.8 609.2,724.3 614.8,728.8 621.6,730.6 628.4,732.2 635.1,727.2 641.9,720.5 647.6,715.3 654.3,713.0 658.9,713.0 664.5,711.4 670.1,710.7 675.8,713.0 682.5,712.5 689.3,713.0 696.1,711.4 701.7,709.8 706.2,711.4 710.8,713.0 715.3,710.7 723.2,708.0 730.0,702.4 736.7,696.8 743.5,691.8 748.0,687.3 753.0,684.3 758.2,688.4 763.8,694.9 770.6,706.9 777.4,718.2 784.1,727.9 789.8,732.2 796.5,735.1 803.3,732.9 810.1,727.9 815.7,730.6 824.8,731.7 831.5,739.2 838.3,746.9 845.1,753.2 851.9,757.7 860.9,750.9 869.9,749.8 878.9,748.2 883.5,747.5 884.5,748.2 890.2,753.2 898.1,757.7 904.8,762.2 911.6,766.7 918.4,771.2 926.3,779.1 933.0,779.1 938.7,780.7 944.3,783.0 951.1,783.7 957.9,780.3 964.6,775.8 972.5,771.7 979.3,765.6 986.1,759.5 992.9,755.0 999.6,753.6 1006.4,753.2 1012.0,752.0 1016.6,750.9 1021.1,753.6 1026.7,757.7 1033.5,758.1 1040.3,760.0 1048.2,763.3 1054.9,764.0 1060.6,762.7 1066.2,760.0 1071.9,754.3 1078.7,747.5 1084.3,739.6 1091.1,728.4 1097.8,720.5 1103.5,712.5 1108.0,704.6 1112.5,699.5 1119.3,697.9 1123.8,702.4 1128.3,709.2 1135.1,716.6 1141.8,723.8 1147.5,732.9 1153.1,740.8 1158.8,752.0 1163.3,763.3 1167.8,769.0" stroke="#fdd835" stroke-width="1.3" fill="none" stroke-linejoin="round"/><polyline points="10.0,686.6 15.6,683.7 19.0,710.3 24.7,730.6 26.9,729.5 32.1,714.8 35.3,726.1 38.2,750.9 41.1,761.1 44.3,741.9 47.2,753.2 52.9,770.1 56.3,765.6 59.7,754.3 64.2,752.0 67.6,754.3 75.5,761.1 77.7,750.5 81.8,757.7 86.8,778.0 91.3,791.6 93.1,790.4 96.2,773.5 99.8,782.5 103.0,775.3 105.9,780.3 109.3,807.4 112.7,802.8 115.6,808.5 117.9,804.0 120.6,779.1 124.0,782.5 126.9,725.0 129.6,763.3 133.7,760.0 137.5,758.8 140.9,762.7 145.9,769.0 152.2,785.5 155.6,775.8 160.1,770.8 163.5,755.4 166.9,752.0 170.3,762.7 173.7,761.1 177.0,763.3 179.8,744.6 183.8,755.4 188.3,754.8 190.6,748.7 194.0,731.7 197.4,724.3 200.7,736.2 204.1,735.1 207.5,748.7 210.4,758.1 215.4,758.1 219.9,753.2 223.3,771.2 227.2,770.8 229.0,754.3 232.3,758.1 235.3,783.0 238.0,780.7 242.1,782.1 244.8,746.4 247.5,757.7 253.8,717.5 256.5,725.0 260.6,723.8 263.3,730.2 267.3,718.2 269.6,713.0 272.3,714.8 275.9,704.0 279.1,709.2 282.5,712.1 285.4,690.0 289.9,684.3 292.2,684.3 296.2,691.8 300.1,697.9 303.4,699.0 306.8,704.0 310.2,700.1 313.1,692.7 315.8,702.4 319.2,709.2 322.1,720.5 324.8,712.1 331.1,709.2 333.9,667.4 337.2,653.9 340.2,647.1 344.0,666.3 347.4,665.1 350.1,651.1 353.1,678.7 355.3,699.0 359.1,705.8 362.1,709.2 365.0,694.0 367.7,712.5 371.8,708.0 376.8,687.7 380.8,704.6 384.0,701.3 388.0,701.7 390.3,704.0 393.0,699.5 395.9,712.5 399.3,732.9 402.0,757.7 405.0,756.6 408.4,753.2 412.9,756.6 417.4,763.3 419.6,771.2 421.2,784.8 423.7,771.2 429.8,755.4 433.2,730.6 436.1,715.9 438.8,727.2 442.2,752.0 446.3,761.1 449.0,767.9 453.1,743.0 456.2,749.8 460.3,756.6 463.7,755.4 467.0,771.2 470.4,780.7 473.4,787.5 476.1,746.4 479.5,743.0 482.8,749.8 486.2,758.1 489.2,749.8 491.9,726.1 495.3,719.3 498.0,716.6 500.9,737.4 504.3,723.4 507.2,723.8 510.4,736.9 513.3,736.2 516.2,724.3 519.4,732.9 522.4,728.4 525.7,710.3 529.1,694.0 532.5,700.8 535.9,706.2 540.4,703.1 543.8,697.9 546.5,676.4 549.4,672.4 552.8,669.2 556.2,670.1 559.1,665.1 562.3,649.4 564.6,634.7 566.4,631.3 568.2,678.7 569.8,687.7 572.0,702.4 574.3,696.8 577.2,700.1 581.0,694.5 583.3,708.5 586.7,713.7 590.1,721.6 593.5,735.1 595.7,750.9 597.5,761.1 602.4,755.4 605.8,736.2 609.2,746.4 612.1,737.4 614.8,722.7 618.2,718.2 621.6,711.4 625.0,706.9 627.9,726.1 630.6,700.1 634.0,682.8 636.3,697.9 639.7,715.9 643.0,710.3 646.0,709.2 648.7,726.1 651.6,737.4 655.0,718.2 658.4,730.6 661.8,701.3 665.6,696.3 667.9,695.6 670.8,727.9 674.6,713.0 676.9,706.2 679.8,694.5 683.0,710.3 687.5,715.9 692.7,722.7 695.6,705.8 699.0,704.6 701.7,718.2 705.1,717.1 707.8,722.7 710.8,713.7 713.7,701.3 716.4,697.9 719.8,688.9 723.2,681.4 725.9,667.4 730.0,667.4 732.7,673.0 736.3,687.0 739.0,684.3 742.4,674.2 745.3,670.8 747.6,692.2 750.3,692.2 753.7,700.8 756.6,732.9 760.4,747.5 763.8,750.5 767.2,776.9 769.5,753.2 772.4,754.3 776.2,740.8 779.2,736.9 781.9,743.0 785.3,720.5 788.2,703.5 790.9,706.2 794.3,715.9 797.2,714.8 800.4,709.2 803.3,731.1 806.2,718.2 809.0,726.1 812.4,755.4 815.7,782.1 818.4,760.0 822.0,738.1 825.9,748.7 830.4,762.2 834.9,765.6 838.3,757.2 841.7,756.6 844.6,754.3 847.3,758.8 850.0,765.6 853.0,745.3 855.9,741.4 859.1,740.8 862.0,730.2 865.9,735.1 869.5,740.8 872.2,741.9 874.9,756.6 877.8,752.0 881.2,752.0 884.6,749.8 886.8,782.5 889.5,794.9 892.4,778.0 895.4,785.9 898.5,771.7 901.4,775.8 904.8,764.5 908.9,755.4 912.0,773.5 915.0,775.8 918.4,787.0 921.8,791.6 925.1,791.1 929.7,800.6 933.0,774.6 936.4,780.3 939.8,782.5 942.8,788.2 945.9,792.7 948.9,784.8 951.8,761.8 954.5,761.1 957.9,749.1 961.3,755.4 964.6,762.2 968.5,766.7 973.7,781.4 977.1,748.7 980.0,731.7 982.7,743.0 985.6,755.0 989.5,757.7 993.3,755.4 997.4,740.8 1000.8,744.1 1003.7,744.1 1006.9,755.0 1010.5,752.7 1013.6,762.2 1016.6,765.6 1020.0,760.0 1022.7,773.5 1026.3,783.7 1029.0,757.7 1033.0,758.1 1038.0,757.7 1042.1,764.5 1045.2,767.9 1048.2,775.8 1051.1,766.7 1054.3,752.0 1057.2,749.8 1060.1,756.6 1062.8,749.1 1065.5,749.8 1068.5,737.4 1071.9,714.8 1074.6,710.3 1078.7,706.9 1082.0,692.2 1085.0,681.4 1087.7,706.9 1091.1,700.1 1094.0,711.4 1097.2,712.5 1100.1,699.0 1103.0,700.1 1105.7,682.1 1109.1,676.4 1112.0,697.9 1115.9,692.2 1118.8,696.3 1122.7,728.4 1126.0,747.5 1128.3,767.9 1131.7,753.2 1135.1,756.6 1140.7,759.5 1143.0,782.5 1146.4,758.1 1150.4,748.2 1153.6,753.2 1156.5,773.5 1159.5,774.6 1162.2,799.5 1164.9,806.2 1167.8,790.4" stroke="#7e57c2" stroke-width="2.7" fill="none" stroke-linejoin="round" stroke-linecap="round"/></g><rect x="10" y="27" width="1309" height="821" fill="none" stroke="#f1f1f2" stroke-width="2"/><path d="M11,620.5H1253" stroke="#e0e3eb" stroke-width="1" fill="none"/><path d="M1253.5,28V847M11,820.5H1318" stroke="#e0e0e1" stroke-width="1" fill="none"/><text x="18.1" y="45.8" font-size="12.3" fill="#131722" textLength="158.90" lengthAdjust="spacingAndGlyphs" stroke="#131722" stroke-width="0.22">SOL / TetherUS · 1D · Binance</text><text x="186.1" y="45.8" font-size="12.3" fill="#131722" textLength="8.60" lengthAdjust="spacingAndGlyphs" stroke="#131722" stroke-width="0.22">O</text><text x="195.3" y="45.8" font-size="12.3" fill="#26a69a" textLength="34.40" lengthAdjust="spacingAndGlyphs" stroke="#26a69a" stroke-width="0.22">100.78</text><text x="237.2" y="45.8" font-size="12.3" fill="#131722" textLength="7.60" lengthAdjust="spacingAndGlyphs" stroke="#131722" stroke-width="0.22">H</text><text x="245" y="45.8" font-size="12.3" fill="#26a69a" textLength="35.40" lengthAdjust="spacingAndGlyphs" stroke="#26a69a" stroke-width="0.22">106.12</text><text x="288.4" y="45.8" font-size="12.3" fill="#131722" textLength="6.00" lengthAdjust="spacingAndGlyphs" stroke="#131722" stroke-width="0.22">L</text><text x="295" y="45.8" font-size="12.3" fill="#26a69a" textLength="27.90" lengthAdjust="spacingAndGlyphs" stroke="#26a69a" stroke-width="0.22">95.95</text><text x="331" y="45.8" font-size="12.3" fill="#131722" textLength="7.60" lengthAdjust="spacingAndGlyphs" stroke="#131722" stroke-width="0.22">C</text><text x="339.3" y="45.8" font-size="12.3" fill="#26a69a" textLength="33.80" lengthAdjust="spacingAndGlyphs" stroke="#26a69a" stroke-width="0.22">104.56</text><text x="381.8" y="45.8" font-size="12.3" fill="#26a69a" textLength="77.50" lengthAdjust="spacingAndGlyphs" stroke="#26a69a" stroke-width="0.22">+3.77 (+3.74%)</text><text x="18.1" y="62.9" font-size="12.3" fill="#131722" textLength="81.30" lengthAdjust="spacingAndGlyphs" stroke="#131722" stroke-width="0.22">EMA (20, close)</text><text x="108.4" y="62.9" font-size="12.3" fill="#2962ff" textLength="34.60" lengthAdjust="spacingAndGlyphs" stroke="#2962ff" stroke-width="0.22">121.82</text><text x="18.1" y="79.8" font-size="12.3" fill="#131722" textLength="81.30" lengthAdjust="spacingAndGlyphs" stroke="#131722" stroke-width="0.22">SMA (50, close)</text><text x="107.5" y="79.8" font-size="12.3" fill="#f23645" textLength="35.00" lengthAdjust="spacingAndGlyphs" stroke="#f23645" stroke-width="0.22">128.44</text><text x="18.4" y="639.5" font-size="12.3" fill="#131722" textLength="75.60" lengthAdjust="spacingAndGlyphs" stroke="#131722" stroke-width="0.22">RSI (14, close)</text><text x="102" y="639.5" font-size="12.3" fill="#7e57c2" textLength="28.60" lengthAdjust="spacingAndGlyphs" stroke="#7e57c2" stroke-width="0.22">30.77</text><text x="138.7" y="639.5" font-size="12.3" fill="#fdd835" textLength="28.30" lengthAdjust="spacingAndGlyphs" stroke="#fdd835" stroke-width="0.22">37.41</text><text x="1262.6" y="62.7" font-size="12.4" fill="#131722" textLength="34.80" lengthAdjust="spacingAndGlyphs" stroke="#131722" stroke-width="0.22">270.00</text><text x="1262.6" y="92.7" font-size="12.4" fill="#131722" textLength="34.80" lengthAdjust="spacingAndGlyphs" stroke="#131722" stroke-width="0.22">260.00</text><text x="1262.6" y="122.7" font-size="12.4" fill="#131722" textLength="34.80" lengthAdjust="spacingAndGlyphs" stroke="#131722" stroke-width="0.22">250.00</text><text x="1262.6" y="153.7" font-size="12.4" fill="#131722" textLength="34.80" lengthAdjust="spacingAndGlyphs" stroke="#131722" stroke-width="0.22">240.00</text><text x="1262.6" y="183.7" font-size="12.4" fill="#131722" textLength="34.80" lengthAdjust="spacingAndGlyphs" stroke="#131722" stroke-width="0.22">230.00</text><text x="1262.6" y="213.7" font-size="12.4" fill="#131722" textLength="34.80" lengthAdjust="spacingAndGlyphs" stroke="#131722" stroke-width="0.22">220.00</text><text x="1262.6" y="244.7" font-size="12.4" fill="#131722" textLength="34.80" lengthAdjust="spacingAndGlyphs" stroke="#131722" stroke-width="0.22">210.00</text><text x="1262.6" y="274.7" font-size="12.4" fill="#131722" textLength="34.80" lengthAdjust="spacingAndGlyphs" stroke="#131722" stroke-width="0.22">200.00</text><text x="1262.6" y="305.7" font-size="12.4" fill="#131722" textLength="34.80" lengthAdjust="spacingAndGlyphs" stroke="#131722" stroke-width="0.22">190.00</text><text x="1262.6" y="335.7" font-size="12.4" fill="#131722" textLength="34.80" lengthAdjust="spacingAndGlyphs" stroke="#131722" stroke-width="0.22">180.00</text><text x="1262.6" y="366.7" font-size="12.4" fill="#131722" textLength="34.80" lengthAdjust="spacingAndGlyphs" stroke="#131722" stroke-width="0.22">170.00</text><text x="1262.6" y="396.7" font-size="12.4" fill="#131722" textLength="34.80" lengthAdjust="spacingAndGlyphs" stroke="#131722" stroke-width="0.22">160.00</text><text x="1262.6" y="427.7" font-size="12.4" fill="#131722" textLength="34.80" lengthAdjust="spacingAndGlyphs" stroke="#131722" stroke-width="0.22">150.00</text><text x="1262.6" y="457.7" font-size="12.4" fill="#131722" textLength="34.80" lengthAdjust="spacingAndGlyphs" stroke="#131722" stroke-width="0.22">140.00</text><text x="1262.6" y="488.7" font-size="12.4" fill="#131722" textLength="34.80" lengthAdjust="spacingAndGlyphs" stroke="#131722" stroke-width="0.22">130.00</text><text x="1262.6" y="548.7" font-size="12.4" fill="#131722" textLength="34.80" lengthAdjust="spacingAndGlyphs" stroke="#131722" stroke-width="0.22">110.00</text><text x="1262.6" y="579.7" font-size="12.4" fill="#131722" textLength="34.80" lengthAdjust="spacingAndGlyphs" stroke="#131722" stroke-width="0.22">100.00</text><text x="1262.6" y="609.7" font-size="12.4" fill="#131722" textLength="34.80" lengthAdjust="spacingAndGlyphs" stroke="#131722" stroke-width="0.22">90.00</text><text x="1262.6" y="643.7" font-size="12.4" fill="#131722" textLength="28.80" lengthAdjust="spacingAndGlyphs" stroke="#131722" stroke-width="0.22">80.00</text><text x="1262.6" y="674.7" font-size="12.4" fill="#131722" textLength="28.80" lengthAdjust="spacingAndGlyphs" stroke="#131722" stroke-width="0.22">70.00</text><text x="1262.6" y="705.7" font-size="12.4" fill="#131722" textLength="28.80" lengthAdjust="spacingAndGlyphs" stroke="#131722" stroke-width="0.22">60.00</text><text x="1262.6" y="735.7" font-size="12.4" fill="#131722" textLength="28.80" lengthAdjust="spacingAndGlyphs" stroke="#131722" stroke-width="0.22">50.00</text><text x="1262.6" y="766.7" font-size="12.4" fill="#131722" textLength="28.80" lengthAdjust="spacingAndGlyphs" stroke="#131722" stroke-width="0.22">40.00</text><path d="M1253.5,80H1301A2,2 0 0 1 1303,82V95A2,2 0 0 1 1301,97H1253.5V80Z" fill="#0000ff"/><text x="1262.4" y="92.6" font-size="12.4" fill="#fff" textLength="35.20" lengthAdjust="spacingAndGlyphs" stroke="#fff" stroke-width="0.22">260.00</text><path d="M1253.5,424H1301A2,2 0 0 1 1303,426V439A2,2 0 0 1 1301,441H1253.5V424Z" fill="#0000ff"/><text x="1262.4" y="436.6" font-size="12.4" fill="#fff" textLength="35.20" lengthAdjust="spacingAndGlyphs" stroke="#fff" stroke-width="0.22">147.00</text><path d="M1205.3,480.2H1253V496.6H1205.3A2,2 0 0 1 1203.3,494.6V482.2A2,2 0 0 1 1205.3,480.2Z" fill="#f23645"/><path d="M1253.5,480.2H1300.7A2,2 0 0 1 1302.7,482.2V494.6A2,2 0 0 1 1300.7,496.6H1253.5V480.2Z" fill="#f23645"/><text x="1207.7" y="492.9" font-size="12.4" fill="#fff" textLength="41.70" lengthAdjust="spacingAndGlyphs" stroke="#fff" stroke-width="0.22">SMA:MA</text><text x="1262.7" y="492.9" font-size="12.4" fill="#fff" textLength="34.80" lengthAdjust="spacingAndGlyphs" stroke="#fff" stroke-width="0.22">128.44</text><path d="M1224.1,498.3H1253V514.5H1224.1A2,2 0 0 1 1222.1,512.5V500.3A2,2 0 0 1 1224.1,498.3Z" fill="#2962ff"/><path d="M1253.5,498.3H1300.7A2,2 0 0 1 1302.7,500.3V512.5A2,2 0 0 1 1300.7,514.5H1253.5V498.3Z" fill="#2962ff"/><text x="1227" y="510.6" font-size="12.4" fill="#fff" textLength="22.40" lengthAdjust="spacingAndGlyphs" stroke="#fff" stroke-width="0.22">EMA</text><text x="1262.7" y="510.6" font-size="12.4" fill="#fff" textLength="34.80" lengthAdjust="spacingAndGlyphs" stroke="#fff" stroke-width="0.22">121.82</text><path d="M1253.5,515.3H1300.7A2,2 0 0 1 1302.7,517.3V529.4A2,2 0 0 1 1300.7,531.4H1253.5V515.3Z" fill="#0000ff"/><text x="1262.7" y="527.7" font-size="12.4" fill="#fff" textLength="34.80" lengthAdjust="spacingAndGlyphs" stroke="#fff" stroke-width="0.22">117.00</text><path d="M1199,553.4H1253V569.7H1199A2,2 0 0 1 1197,567.7V555.4A2,2 0 0 1 1199,553.4Z" fill="#26a69a"/><text x="1201.2" y="565.8" font-size="12.4" fill="#fff" textLength="47.50" lengthAdjust="spacingAndGlyphs" stroke="#fff" stroke-width="0.22">SOLUSDT</text><path d="M1253.5,553.4H1312A2,2 0 0 1 1314,555.4V595.7A2,2 0 0 1 1312,597.7H1253.5V553.4Z" fill="#26a69a"/><text x="1262.4" y="565.8" font-size="12.4" fill="#fff" textLength="35.20" lengthAdjust="spacingAndGlyphs" stroke="#fff" stroke-width="0.22">104.56</text><text x="1262.2" y="579.8" font-size="12.4" fill="#fff" textLength="42.70" lengthAdjust="spacingAndGlyphs" stroke="#fff" stroke-width="0.22">−59.37%</text><text x="1261.9" y="593.5" font-size="12.4" fill="#fff" textLength="46.00" lengthAdjust="spacingAndGlyphs" stroke="#fff" stroke-width="0.22" fill-opacity="0.8">07:58:43</text><path d="M1253.5,598.4H1294.8A2,2 0 0 1 1296.8,600.4V612.7A2,2 0 0 1 1294.8,614.7H1253.5V598.4Z" fill="#0000ff"/><text x="1262.4" y="610.6" font-size="12.4" fill="#fff" textLength="29.30" lengthAdjust="spacingAndGlyphs" stroke="#fff" stroke-width="0.22">95.00</text><path d="M1176,762.2H1253V778.7H1176A2,2 0 0 1 1174,776.7V764.2A2,2 0 0 1 1176,762.2Z" fill="#fdd835"/><path d="M1253.5,762.2H1294.7A2,2 0 0 1 1296.7,764.2V776.7A2,2 0 0 1 1294.7,778.7H1253.5V762.2Z" fill="#fdd835"/><text x="1179" y="774.5" font-size="12.4" fill="#131722" textLength="70.00" lengthAdjust="spacingAndGlyphs" stroke="#131722" stroke-width="0.22">RSI-based MA</text><text x="1262.2" y="774.5" font-size="12.4" fill="#131722" textLength="28.40" lengthAdjust="spacingAndGlyphs" stroke="#131722" stroke-width="0.22">37.41</text><path d="M1230.1,783.2H1253V799.8H1230.1A2,2 0 0 1 1228.1,797.8V785.2A2,2 0 0 1 1230.1,783.2Z" fill="#7e57c2"/><path d="M1253.5,783.2H1294.7A2,2 0 0 1 1296.7,785.2V797.8A2,2 0 0 1 1294.7,799.8H1253.5V783.2Z" fill="#7e57c2"/><text x="1233.2" y="795.6" font-size="12.4" fill="#fff" textLength="15.60" lengthAdjust="spacingAndGlyphs" stroke="#fff" stroke-width="0.22">RSI</text><text x="1262.2" y="795.6" font-size="12.4" fill="#fff" textLength="28.40" lengthAdjust="spacingAndGlyphs" stroke="#fff" stroke-width="0.22">30.77</text><rect x="1254" y="28" width="64" height="32" fill="#fff"/><rect x="1257.5" y="31.5" width="56" height="25.5" rx="4" fill="#fff" stroke="#e0e3eb" stroke-width="1"/><text x="1266.3" y="48.7" font-size="12.4" fill="#131722" textLength="27.70" lengthAdjust="spacingAndGlyphs" stroke="#131722" stroke-width="0.22">USDT</text><text x="38.0" y="837.8" font-size="12.4" fill="#131722" text-anchor="middle" textLength="19.02" lengthAdjust="spacingAndGlyphs" stroke="#131722" stroke-width="0.22">Feb</text><text x="124.5" y="837.8" font-size="12.4" fill="#131722" text-anchor="middle" textLength="19.01" lengthAdjust="spacingAndGlyphs" stroke="#131722" stroke-width="0.22">Mar</text><text x="220.2" y="837.8" font-size="12.4" fill="#131722" text-anchor="middle" textLength="17.17" lengthAdjust="spacingAndGlyphs" stroke="#131722" stroke-width="0.22">Apr</text><text x="312.8" y="837.8" font-size="12.4" fill="#131722" text-anchor="middle" textLength="20.85" lengthAdjust="spacingAndGlyphs" stroke="#131722" stroke-width="0.22">May</text><text x="408.6" y="837.8" font-size="12.4" fill="#131722" text-anchor="middle" textLength="17.79" lengthAdjust="spacingAndGlyphs" stroke="#131722" stroke-width="0.22">Jun</text><text x="501.2" y="837.8" font-size="12.4" fill="#131722" text-anchor="middle" textLength="14.11" lengthAdjust="spacingAndGlyphs" stroke="#131722" stroke-width="0.22">Jul</text><text x="597.0" y="837.8" font-size="12.4" fill="#131722" text-anchor="middle" textLength="19.64" lengthAdjust="spacingAndGlyphs" stroke="#131722" stroke-width="0.22">Aug</text><text x="692.7" y="837.8" font-size="12.4" fill="#131722" text-anchor="middle" textLength="19.64" lengthAdjust="spacingAndGlyphs" stroke="#131722" stroke-width="0.22">Sep</text><text x="785.3" y="837.8" font-size="12.4" fill="#131722" text-anchor="middle" textLength="17.17" lengthAdjust="spacingAndGlyphs" stroke="#131722" stroke-width="0.22">Oct</text><text x="881.1" y="837.8" font-size="12.4" fill="#131722" text-anchor="middle" textLength="19.63" lengthAdjust="spacingAndGlyphs" stroke="#131722" stroke-width="0.22">Nov</text><text x="973.7" y="837.8" font-size="12.4" fill="#131722" text-anchor="middle" textLength="19.63" lengthAdjust="spacingAndGlyphs" stroke="#131722" stroke-width="0.22">Dec</text><text x="1069.5" y="837.8" font-size="12.4" fill="#131722" text-anchor="middle" font-weight="bold" textLength="24.55" lengthAdjust="spacingAndGlyphs" stroke="#131722" stroke-width="0.22">2026</text><text x="1165.2" y="837.8" font-size="12.4" fill="#131722" text-anchor="middle" textLength="19.02" lengthAdjust="spacingAndGlyphs" stroke="#131722" stroke-width="0.22">Feb</text><circle cx="1168.5" cy="607.3" r="11.5" fill="#fff"/><path d="M1177.63,604.33A9.6,9.6 0 1 1 1171.39,598.14" stroke="#9c27b0" stroke-width="1.6" fill="none" stroke-linecap="round"/><path d="M1170.6,602.6L1164.9,607.4L1172.3,607.4L1165.6,612.5" stroke="#9c27b0" stroke-width="1.7" fill="none" stroke-linejoin="round" stroke-linecap="round"/><circle cx="1175.4" cy="600.5" r="2.5" fill="#f23645"/><path d="M12,870.2H24V885.1H17.9V874.9H12Z" fill="#131722"/><circle cx="29.2" cy="872.8" r="2.4" fill="#131722"/><path d="M33.4,870.2H41.6L36.8,885.1H29.1Z" fill="#131722"/><text x="49" y="885" font-size="20.4" fill="#131722" font-weight="bold" textLength="120.60" lengthAdjust="spacingAndGlyphs" stroke="#131722" stroke-width="0.22">TradingView</text></svg></div>
</body></html>
